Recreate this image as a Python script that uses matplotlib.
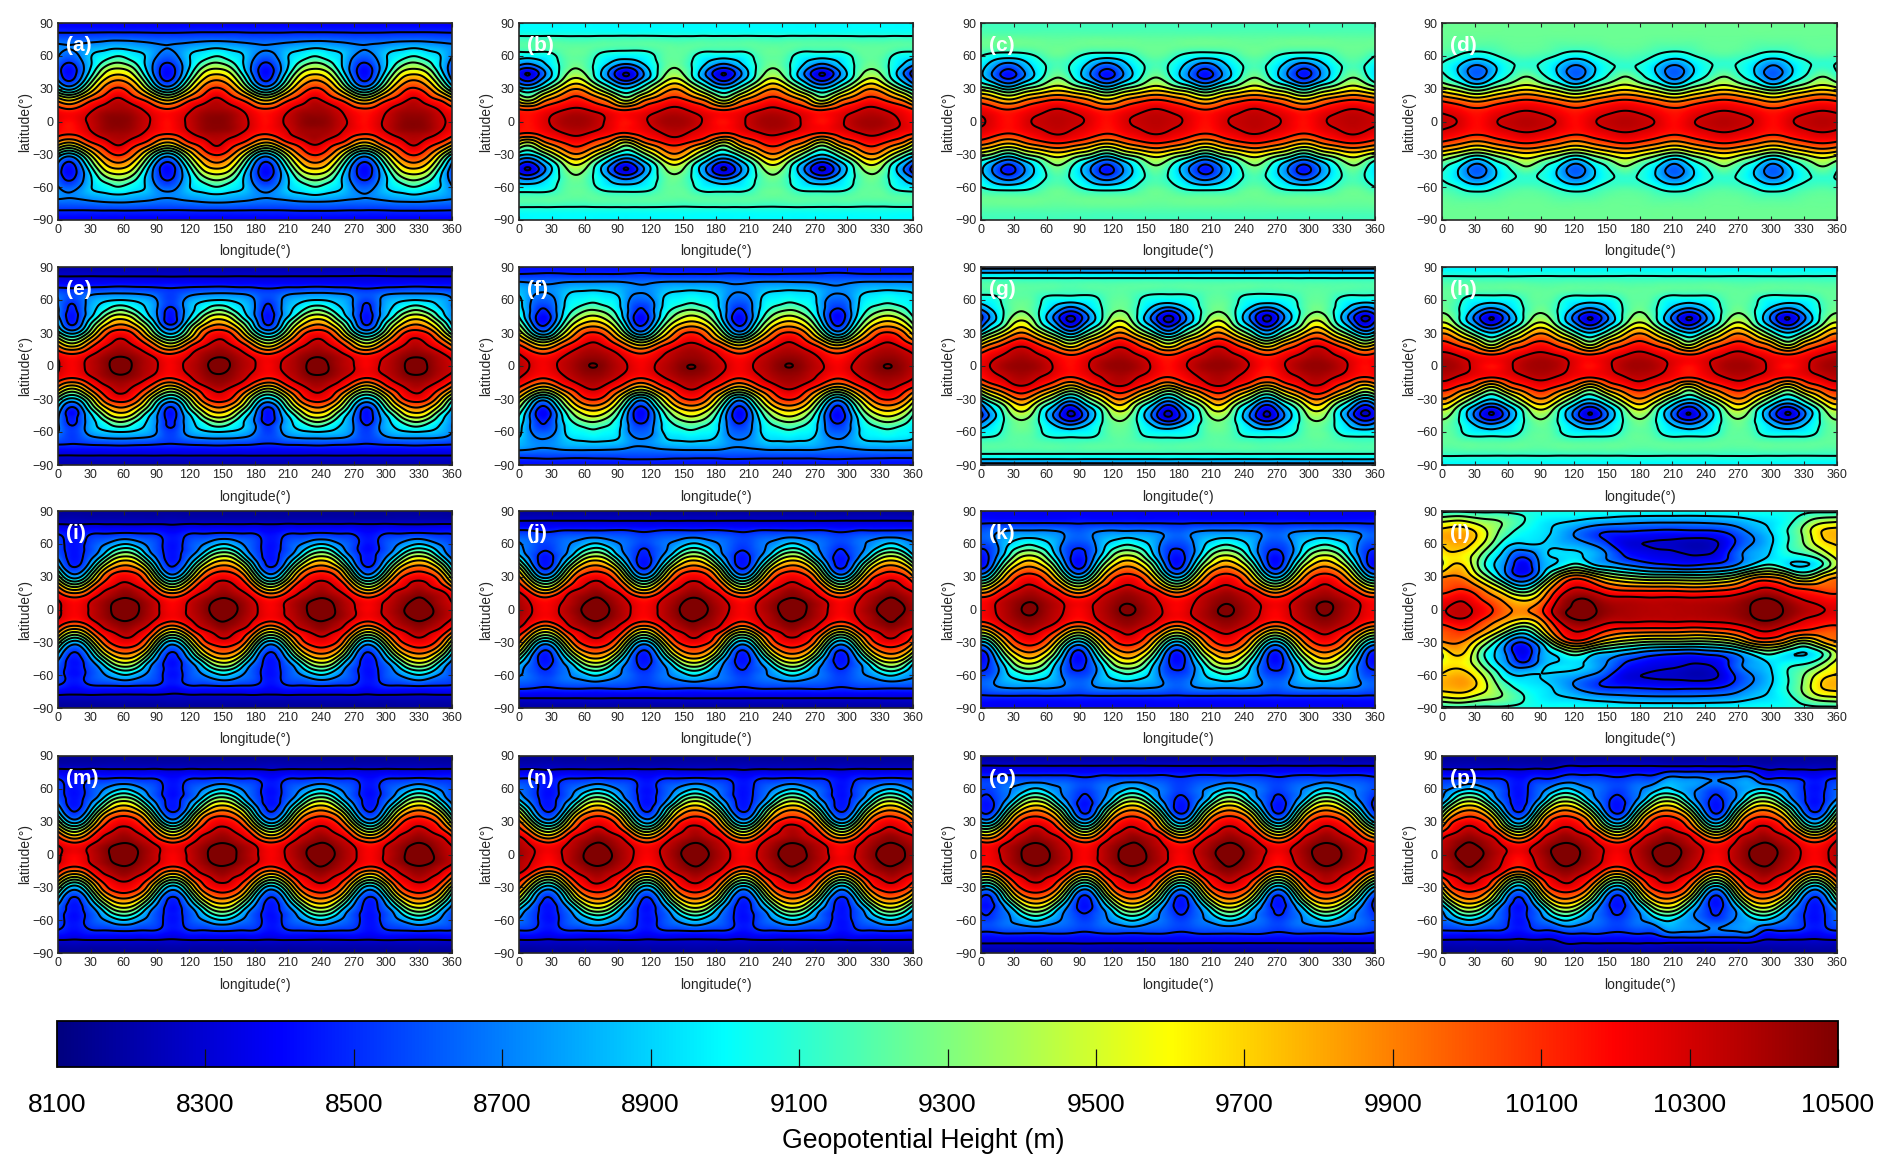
import numpy as np
import matplotlib
matplotlib.use("Agg")
import matplotlib.pyplot as plt
import matplotlib.tri as mtri
from matplotlib.cm import ScalarMappable
from matplotlib.colors import LinearSegmentedColormap, Normalize

plt.rcParams['font.family'] = ['Liberation Sans', 'DejaVu Sans']

# Latitudes of the table rows (northern half, mirrored to the south)
wave_lat = [0, 10, 20, 30, 38, 45, 52, 60, 70, 80, 90]

# Geopotential height, one half wave each:
# columns go from the ridge (left) to the trough (right)
wave_a = [[10480, 10450, 10350, 10260, 10170], [10420, 10400, 10310, 10200, 10140],
          [10340, 10220, 10100, 9850, 9630], [10130, 10000, 9650, 9120, 8800],
          [9900, 9750, 9320, 8740, 8450], [9630, 9520, 9080, 8620, 8390],
          [9370, 9250, 8950, 8640, 8450], [9100, 9000, 8930, 8730, 8620],
          [8810, 8790, 8760, 8720, 8700], [8530, 8530, 8525, 8520, 8520],
          [8380, 8380, 8380, 8380, 8380]]
wave_b = [[10420, 10400, 10320, 10230, 10160], [10350, 10310, 10250, 10170, 10120],
          [10170, 10090, 9950, 9700, 9400], [9900, 9730, 9400, 9080, 8900],
          [9580, 9360, 8990, 8680, 8420], [9360, 9220, 8900, 8530, 8280],
          [9270, 9170, 8990, 8800, 8660], [9230, 9200, 9040, 8990, 8980],
          [9220, 9220, 9220, 9210, 9210], [9060, 9060, 9060, 9060, 9060],
          [9000, 9000, 9000, 9000, 9000]]
wave_c = [[10360, 10340, 10310, 10230, 10170], [10320, 10290, 10240, 10170, 10120],
          [10100, 10050, 9960, 9820, 9700], [9620, 9520, 9380, 9220, 9020],
          [9350, 9210, 8960, 8720, 8520], [9240, 9100, 8880, 8600, 8420],
          [9180, 9100, 8950, 8760, 8620], [9230, 9190, 9080, 9010, 8990],
          [9250, 9250, 9250, 9250, 9250], [9200, 9200, 9200, 9200, 9200],
          [9150, 9150, 9150, 9150, 9150]]
wave_d = [[10370, 10350, 10320, 10250, 10180], [10300, 10280, 10240, 10180, 10140],
          [10100, 10060, 9980, 9880, 9800], [9650, 9580, 9450, 9300, 9170],
          [9380, 9250, 9100, 8900, 8700], [9220, 9120, 9000, 8750, 8600],
          [9110, 9100, 9000, 8830, 8700], [9190, 9170, 9130, 9040, 8990],
          [9240, 9240, 9220, 9200, 9200], [9250, 9250, 9250, 9250, 9250],
          [9250, 9250, 9250, 9250, 9250]]
wave_e = [[10560, 10490, 10380, 10300, 10200], [10480, 10440, 10340, 10220, 10130],
          [10370, 10280, 10120, 9780, 9520], [10200, 10100, 9700, 9130, 8830],
          [9900, 9750, 9350, 8800, 8450], [9600, 9450, 9020, 8680, 8400],
          [9260, 9100, 8900, 8680, 8450], [8900, 8880, 8830, 8680, 8530],
          [8570, 8560, 8550, 8530, 8510], [8320, 8320, 8320, 8320, 8320],
          [8220, 8220, 8220, 8220, 8220]]
wave_f = [[10510, 10460, 10370, 10290, 10210], [10430, 10400, 10320, 10210, 10130],
          [10330, 10250, 10090, 9820, 9600], [10130, 10020, 9660, 9130, 8750],
          [9820, 9700, 9340, 8780, 8430], [9540, 9420, 9120, 8650, 8380],
          [9270, 9180, 9000, 8680, 8480], [9060, 9000, 8960, 8700, 8620],
          [8880, 8870, 8850, 8760, 8720], [8590, 8590, 8590, 8590, 8590],
          [8420, 8420, 8420, 8420, 8420]]
wave_g = [[10450, 10430, 10350, 10250, 10170], [10390, 10340, 10270, 10170, 10100],
          [10260, 10170, 9980, 9750, 9500], [9930, 9730, 9400, 9080, 8800],
          [9630, 9380, 9000, 8680, 8350], [9400, 9240, 8900, 8530, 8250],
          [9280, 9190, 8990, 8780, 8600], [9240, 9200, 9050, 9000, 8990],
          [9220, 9210, 9200, 9190, 9180], [9100, 9100, 9100, 9100, 9100],
          [8600, 8600, 8600, 8600, 8600]]
wave_h = [[10420, 10400, 10320, 10230, 10160], [10350, 10310, 10250, 10170, 10120],
          [10170, 10090, 9950, 9700, 9400], [9900, 9730, 9400, 9080, 8900],
          [9580, 9360, 8990, 8680, 8420], [9360, 9220, 8900, 8530, 8280],
          [9270, 9170, 8990, 8800, 8660], [9230, 9200, 9040, 8990, 8980],
          [9230, 9230, 9230, 9220, 9220], [9130, 9130, 9130, 9130, 9130],
          [8970, 8970, 8970, 8970, 8970]]
wave_i = [[10580, 10520, 10400, 10290, 10200], [10510, 10460, 10360, 10230, 10130],
          [10400, 10310, 10190, 9800, 9520], [10230, 10160, 9840, 9150, 8780],
          [10000, 9890, 9450, 8760, 8500], [9700, 9550, 9050, 8600, 8430],
          [9330, 9160, 8740, 8540, 8420], [8900, 8780, 8650, 8530, 8420],
          [8500, 8490, 8490, 8470, 8410], [8260, 8260, 8260, 8260, 8260],
          [8170, 8170, 8170, 8170, 8170]]
wave_j = [[10580, 10520, 10400, 10290, 10200], [10510, 10460, 10360, 10230, 10130],
          [10400, 10310, 10190, 9800, 9520], [10230, 10160, 9840, 9150, 8780],
          [10000, 9890, 9450, 8760, 8460], [9700, 9550, 9050, 8600, 8420],
          [9330, 9160, 8760, 8590, 8460], [8930, 8810, 8700, 8620, 8540],
          [8560, 8560, 8560, 8540, 8510], [8320, 8320, 8320, 8320, 8320],
          [8180, 8180, 8180, 8180, 8180]]
wave_k = [[10530, 10470, 10370, 10280, 10200], [10470, 10420, 10340, 10220, 10140],
          [10350, 10270, 10130, 9800, 9560], [10180, 10090, 9760, 9170, 8820],
          [9950, 9820, 9420, 8780, 8450], [9700, 9540, 9120, 8620, 8390],
          [9400, 9280, 8900, 8580, 8450], [9080, 8980, 8850, 8620, 8560],
          [8760, 8760, 8740, 8680, 8620], [8470, 8470, 8470, 8470, 8470],
          [8370, 8370, 8370, 8370, 8370]]
# third trough of panel (p), the one with the larger loop around it
wave_p = [[10580, 10520, 10400, 10290, 10200], [10510, 10460, 10360, 10230, 10130],
          [10400, 10310, 10190, 9800, 9520], [10230, 10160, 9840, 9150, 8780],
          [10000, 9890, 9450, 8760, 8460], [9700, 9550, 9050, 8600, 8420],
          [9330, 9160, 8760, 8590, 8460], [8930, 8830, 8740, 8640, 8560],
          [8730, 8730, 8720, 8700, 8680], [8320, 8320, 8320, 8320, 8320],
          [8180, 8180, 8180, 8180, 8180]]

# Panel (l) has no repeating wave, so it gets a table of its own (every 15 deg)
lat_l = [0, 10, 20, 30, 40, 50, 60, 70, 80, 90]
lon_l = list(range(0, 360, 15))
height_l = [
    [10280, 10350, 10280, 10120, 9930, 9880, 10050, 10400, 10520, 10520, 10450, 10400, 10380, 10370, 10370, 10380, 10390, 10410, 10450, 10520, 10540, 10480, 10380, 10320],
    [10180, 10270, 10170, 9980, 9780, 9620, 9850, 10280, 10480, 10480, 10360, 10340, 10330, 10320, 10330, 10320, 10330, 10340, 10390, 10480, 10500, 10400, 10280, 10220],
    [10000, 10080, 9980, 9700, 9280, 9000, 9480, 10060, 10300, 10250, 10080, 9980, 9960, 9950, 9950, 9920, 9930, 9980, 10080, 10250, 10290, 10150, 10060, 10020],
    [9880, 9920, 9650, 9200, 8700, 8500, 8900, 9600, 10000, 9850, 9550, 9400, 9300, 9250, 9250, 9230, 9230, 9300, 9500, 9830, 9880, 9650, 9350, 9650],
    [9500, 9750, 9400, 8950, 8650, 8350, 8750, 8950, 9200, 9000, 8850, 8750, 8650, 8570, 8530, 8500, 8550, 8600, 8750, 9000, 9150, 8950, 8880, 9050],
    [9600, 9650, 9450, 9050, 8750, 8550, 8800, 8930, 8940, 8850, 8700, 8500, 8400, 8350, 8330, 8300, 8300, 8400, 8650, 8800, 8920, 9050, 9100, 9300],
    [9720, 9800, 9650, 9300, 8950, 8900, 8900, 8850, 8800, 8700, 8550, 8350, 8300, 8280, 8270, 8230, 8230, 8330, 8550, 8720, 8880, 9100, 9300, 9600],
    [9780, 9820, 9720, 9420, 9150, 9000, 8950, 8850, 8700, 8570, 8480, 8470, 8450, 8430, 8420, 8430, 8430, 8470, 8600, 8750, 8900, 9100, 9350, 9700],
    [9500, 9560, 9450, 9350, 9250, 9100, 8980, 8920, 8880, 8820, 8780, 8750, 8730, 8720, 8720, 8720, 8730, 8750, 8800, 8880, 8940, 9050, 9250, 9450],
    [9050, 9050, 9050, 9050, 9050, 9050, 9050, 9050, 9050, 9050, 9050, 9050, 9050, 9050, 9050, 9050, 9050, 9050, 9050, 9050, 9050, 9050, 9050, 9050],
]

# Panel names and where their ridges and troughs sit (deg longitude)
panel_names = list("abcdefghijklmnop")
ridge_lons = {
    'a': [55, 145, 235, 325], 'b': [52, 142, 232, 322], 'c': [70, 160, 250, 340],
    'd': [77, 167, 257, 347], 'e': [57, 147, 237, 327], 'f': [68, 158, 247, 337],
    'g': [37, 127, 217, 307], 'h': [0, 90, 180, 270], 'i': [62, 152, 241, 330],
    'j': [70, 160, 250, 340], 'k': [44, 134, 224, 314], 'm': [60, 150, 240, 330],
    'n': [72, 161, 250, 339], 'o': [50, 138, 227, 315], 'p': [25, 112, 205, 292],
}
trough_lons = {
    'a': [10, 100, 190, 280], 'b': [8, 98, 187, 277], 'c': [25, 115, 205, 295],
    'd': [32, 122, 212, 302], 'e': [13, 103, 192, 282], 'f': [22, 111, 201, 291],
    'g': [82, 171, 261, 351], 'h': [45, 135, 225, 315], 'i': [15, 104, 194, 283],
    'j': [24, 114, 204, 294], 'k': [0, 89, 179, 269], 'm': [15, 105, 195, 285],
    'n': [27, 117, 205, 295], 'o': [5, 95, 183, 272], 'p': [70, 160, 250, 340],
}
panel_waves = {
    'a': [wave_a] * 4, 'b': [wave_b] * 4, 'c': [wave_c] * 4, 'd': [wave_d] * 4,
    'e': [wave_e] * 4, 'f': [wave_f] * 4, 'g': [wave_g] * 4, 'h': [wave_h] * 4,
    'i': [wave_i] * 4, 'j': [wave_j] * 4, 'k': [wave_k] * 4, 'm': [wave_i] * 4,
    'n': [wave_i] * 4, 'o': [wave_j] * 4, 'p': [wave_i, wave_j, wave_p, wave_i],
}

cbar_ticks = list(range(8100, 10501, 200))
contour_levels = list(range(8100, 10701, 200))

# Layout in pixels of the reference
W, H = 1892, 1174
col_px = [(58, 452), (519, 913), (981, 1375), (1442, 1837)]
row_px = [(23, 220), (267, 465), (511, 708), (756, 953)]

# MATLAB flavour of jet: the reference has pure red and yellow a bit earlier
matlab_jet = LinearSegmentedColormap('matlab_jet', {
    'red': [(0, 0, 0), (0.375, 0, 0), (0.625, 1, 1), (0.875, 1, 1), (1, 0.5, 0.5)],
    'green': [(0, 0, 0), (0.125, 0, 0), (0.375, 1, 1), (0.625, 1, 1), (0.875, 0, 0), (1, 0, 0)],
    'blue': [(0, 0.5, 0.5), (0.125, 1, 1), (0.375, 1, 1), (0.625, 0, 0), (1, 0, 0)],
}, N=512)


def mirror(rows, lat):
    rows = np.asarray(rows, dtype=float)
    lat = np.asarray(lat, dtype=float)
    return np.vstack([rows[:0:-1], rows]), np.concatenate([-lat[:0:-1], lat])


def tiled_field(name):
    # walk ridge -> trough -> next ridge and stack the table columns
    order = sorted(range(4), key=lambda k: ridge_lons[name][k])
    rl = [ridge_lons[name][k] for k in order]
    wv = [panel_waves[name][k] for k in order]
    tl = []
    for k in range(4):
        # first trough east of this ridge
        tl.append(min(t + s for t in trough_lons[name] for s in (0, 360) if t + s > rl[k]))
    lons, cols = [], []
    for shift in (-360, 0, 360):
        for k in range(4):
            r0 = rl[k] + shift
            t0 = tl[k] + shift
            r1 = (rl[k + 1] if k < 3 else rl[0] + 360) + shift
            tab = np.asarray(wv[k], dtype=float)
            for c in range(4):
                lons.append(r0 + (t0 - r0) * c / 4)
                cols.append(tab[:, c])
            for c in range(4, 0, -1):
                lons.append(t0 + (r1 - t0) * (4 - c) / 4)
                cols.append(tab[:, c])
    lons = np.array(lons)
    z = np.array(cols).T
    keep = (lons > -50) & (lons < 410)
    return lons[keep], z[:, keep]


def soften(z, wx, wy):
    # two box passes to take the kinks of the coarse tables out
    for _ in range(2):
        pad = np.pad(z, ((wy, wy), (wx, wx)), mode='edge')
        kx = np.ones(2 * wx + 1) / (2 * wx + 1)
        ky = np.ones(2 * wy + 1) / (2 * wy + 1)
        pad = np.apply_along_axis(lambda v: np.convolve(v, kx, mode='same'), 1, pad)
        pad = np.apply_along_axis(lambda v: np.convolve(v, ky, mode='same'), 0, pad)
        z = pad[wy:-wy, wx:-wx]
    return z


jet_norm = Normalize(8100, 10500)
fig = plt.figure(figsize=(W / 100, H / 100), dpi=100)
grid_lon = np.arange(-30, 391, 1.0)
grid_lat = np.arange(-90, 90.5, 1.0)
gx, gy = np.meshgrid(grid_lon, grid_lat)

for n, name in enumerate(panel_names):
    row, col = n // 4, n % 4
    x0, x1 = col_px[col]
    y0, y1 = row_px[row]
    ax = fig.add_axes([x0 / W, 1 - y1 / H, (x1 - x0) / W, (y1 - y0) / H])

    if name == 'l':
        z, lat = mirror(height_l, lat_l)
        lon = np.array(lon_l, dtype=float)
        lon = np.concatenate([lon - 360, lon, lon + 360])
        z = np.hstack([z, z, z])
        keep = (lon > -50) & (lon < 410)
        lon, z = lon[keep], z[:, keep]
    else:
        lon, z_north = tiled_field(name)
        z, lat = mirror(z_north, wave_lat)

    xx, yy = np.meshgrid(lon, lat)
    tri = mtri.Triangulation(xx.ravel(), yy.ravel())
    field = mtri.CubicTriInterpolator(tri, z.ravel())(gx, gy)
    field = soften(np.ma.filled(field, np.nan), 3, 1)

    ax.pcolormesh(grid_lon, grid_lat, field, shading='gouraud', cmap=matlab_jet, norm=jet_norm)
    ax.contour(grid_lon, grid_lat, field, levels=contour_levels, colors='k', linewidths=1.45)

    ax.set_xlim(0, 360)
    ax.set_ylim(-90, 90)
    ax.set_xticks(range(0, 361, 30))
    ax.set_yticks(range(-90, 91, 30))
    ax.tick_params(direction='in', top=True, right=True, length=3, width=0.8,
                   labelsize=9, pad=3, colors='#262626')
    for s in ax.spines.values():
        s.set_linewidth(1.2)
        s.set_color('#262626')
    ax.set_xlabel('longitude(°)', fontsize=10, color='#262626', labelpad=6)
    ax.set_ylabel('latitude(°)', fontsize=10, color='#262626', labelpad=0)
    ax.text(0.02, 0.885, '(%s)' % name, transform=ax.transAxes, color='white',
            fontsize=15, fontweight='bold', ha='left', va='center')

# Colour bar
cax = fig.add_axes([57 / W, 1 - 1067 / H, (1838 - 57) / W, 46 / H])
cb = fig.colorbar(ScalarMappable(norm=jet_norm, cmap=matlab_jet), cax=cax, orientation='horizontal')
cb.set_ticks(cbar_ticks)
cb.ax.tick_params(direction='in', length=13, width=0.9, labelsize=19, pad=19, color='#111111')
cb.outline.set_linewidth(1.3)
fig.text(923 / W, 1 - 1141 / H, 'Geopotential Height (m)', fontsize=19.2, ha='center', va='center')

fig.savefig('out.png', dpi=100)
